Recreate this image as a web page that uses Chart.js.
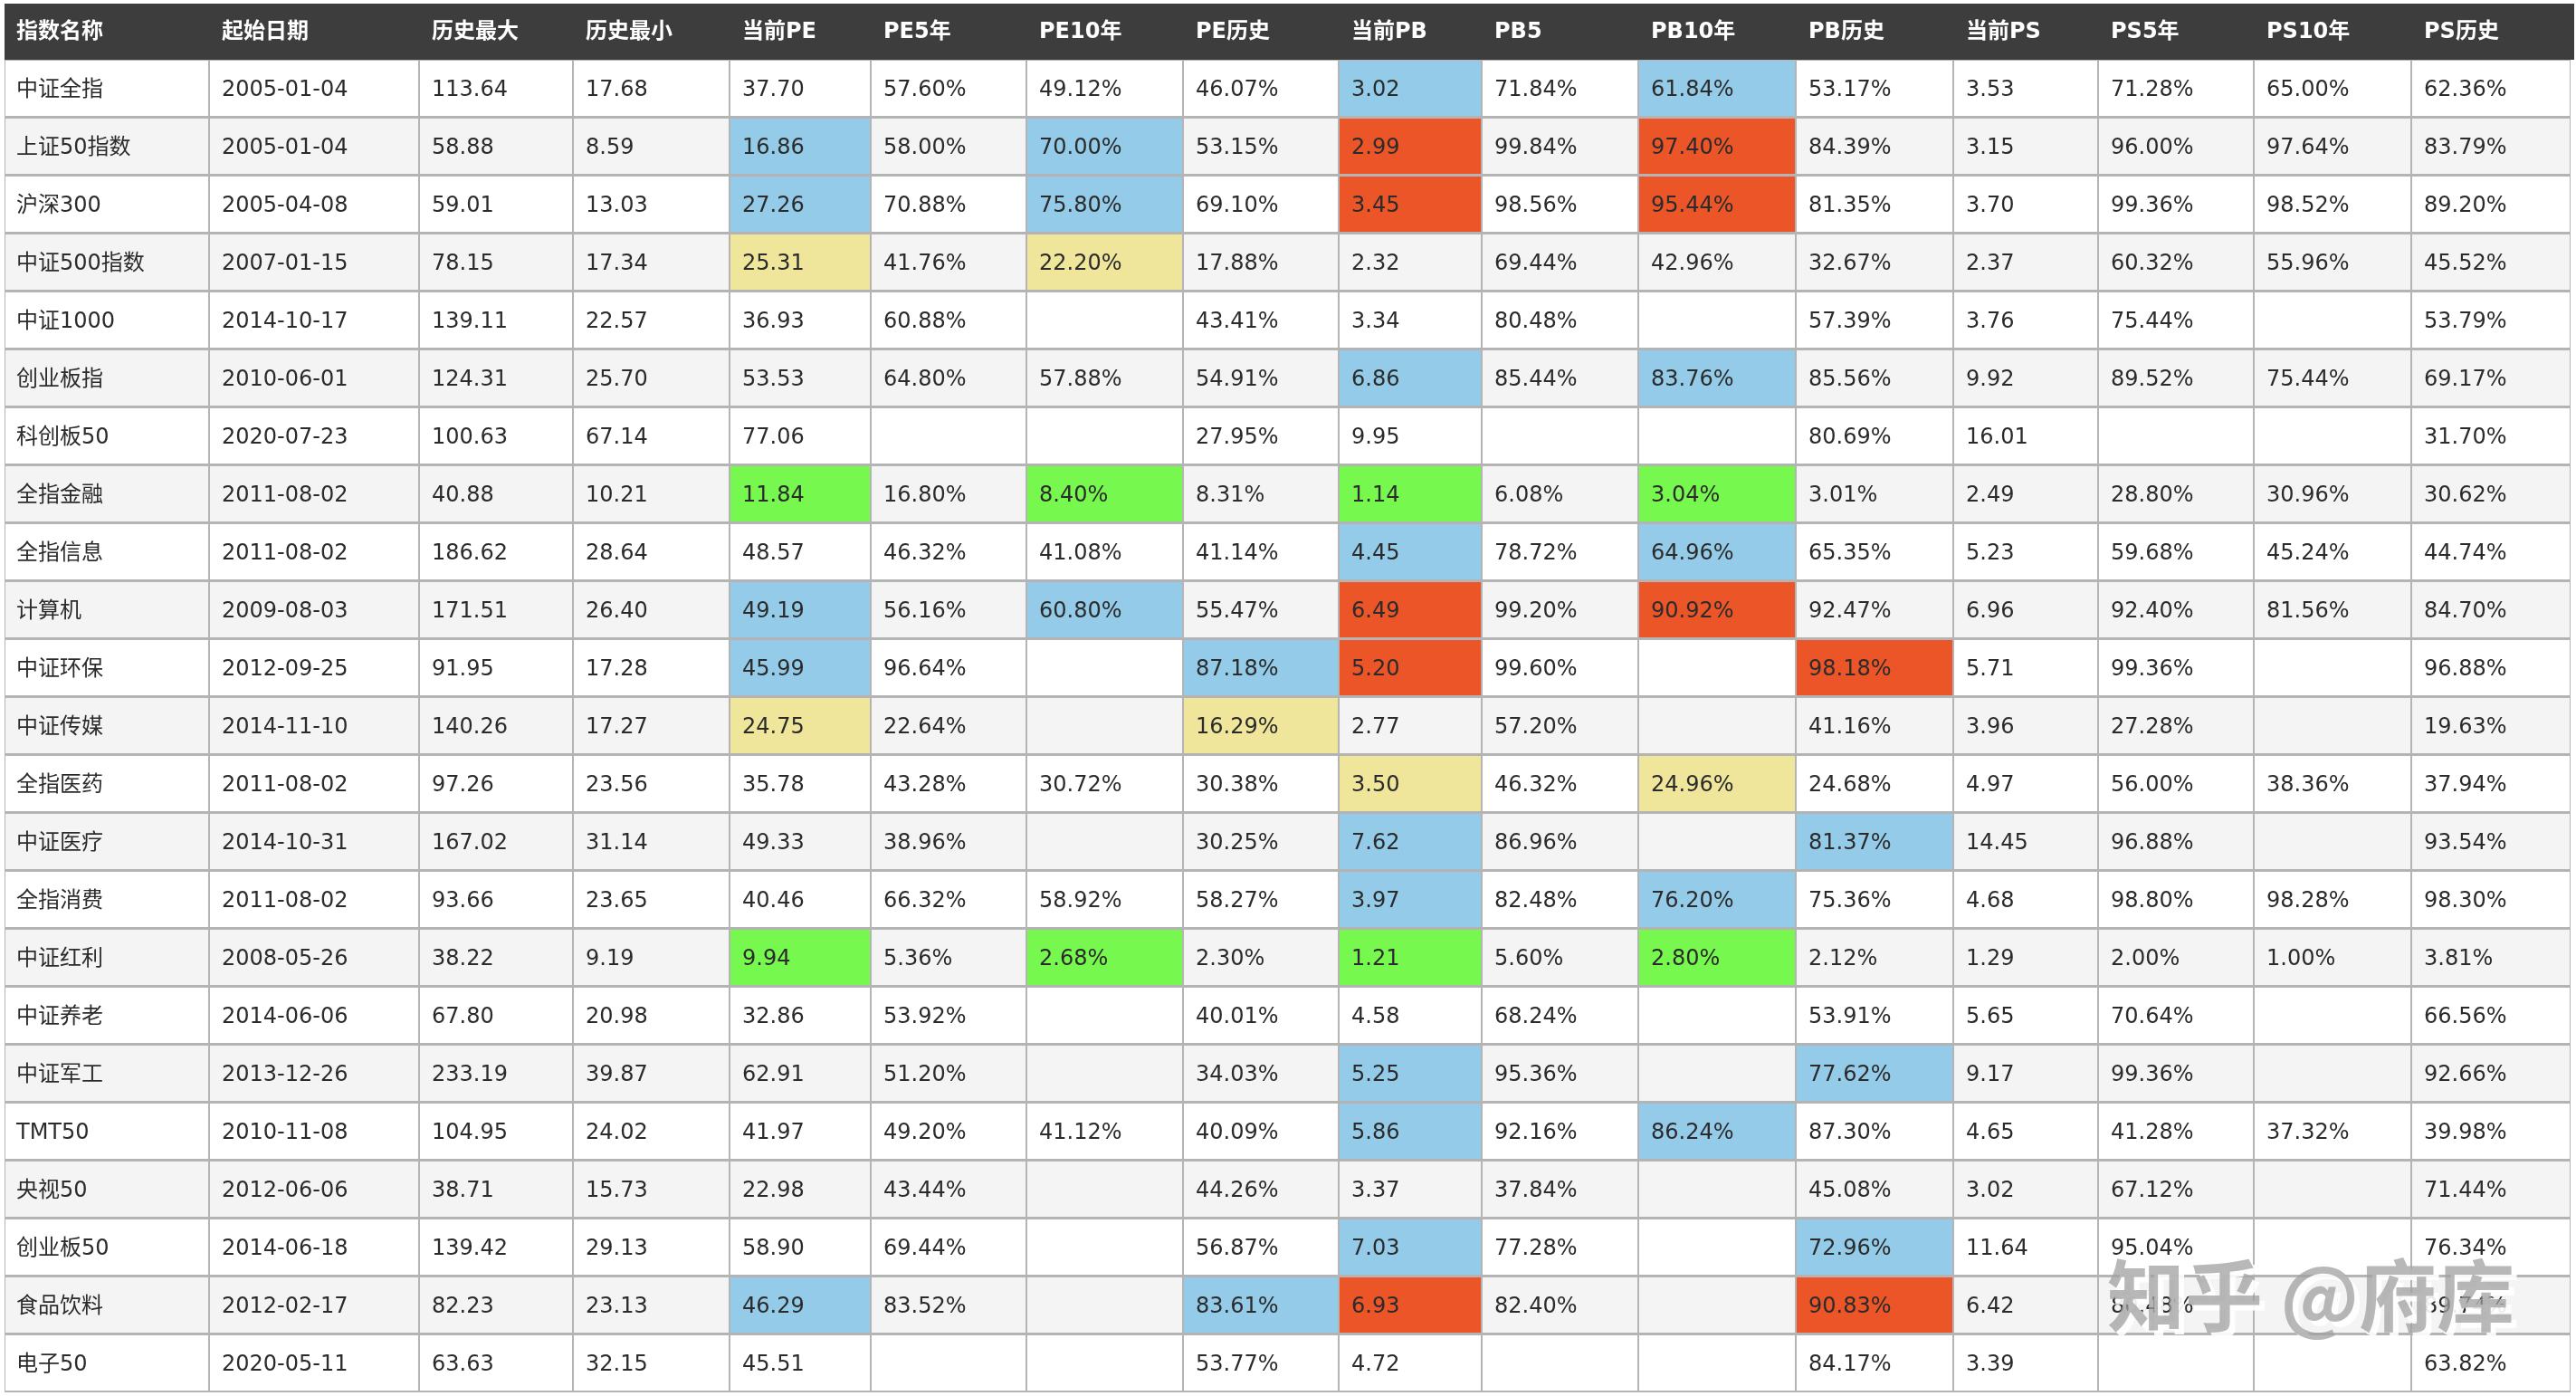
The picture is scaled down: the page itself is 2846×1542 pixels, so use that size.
<!DOCTYPE html>
<html>
<head>
<meta charset="utf-8">
<script src="https://cdn.jsdelivr.net/npm/chart.js@4.4.1/dist/chart.umd.min.js"></script>
<style>
  html, body { margin: 0; padding: 0; background: #fff; }
  canvas { display: block; }
</style>
</head>
<body>
<canvas id="valuation" width="2846" height="1542"></canvas>
<script>
// index names and basic info
const names = ['中证全指', '上证50指数', '沪深300', '中证500指数', '中证1000', '创业板指', '科创板50', '全指金融',
    '全指信息', '计算机', '中证环保', '中证传媒', '全指医药', '中证医疗', '全指消费', '中证红利', '中证养老',
    '中证军工', 'TMT50', '央视50', '创业板50', '食品饮料', '电子50'];
const startDates = ['2005-01-04', '2005-01-04', '2005-04-08', '2007-01-15', '2014-10-17', '2010-06-01', '2020-07-23',
    '2011-08-02', '2011-08-02', '2009-08-03', '2012-09-25', '2014-11-10', '2011-08-02', '2014-10-31', '2011-08-02',
    '2008-05-26', '2014-06-06', '2013-12-26', '2010-11-08', '2012-06-06', '2014-06-18', '2012-02-17', '2020-05-11'];
const histMax = [113.64, 58.88, 59.01, 78.15, 139.11, 124.31, 100.63, 40.88, 186.62, 171.51, 91.95, 140.26, 97.26,
    167.02, 93.66, 38.22, 67.80, 233.19, 104.95, 38.71, 139.42, 82.23, 63.63];
const histMin = [17.68, 8.59, 13.03, 17.34, 22.57, 25.70, 67.14, 10.21, 28.64, 26.40, 17.28, 17.27, 23.56, 31.14,
    23.65, 9.19, 20.98, 39.87, 24.02, 15.73, 29.13, 23.13, 32.15];

// PE
const pe = [37.70, 16.86, 27.26, 25.31, 36.93, 53.53, 77.06, 11.84, 48.57, 49.19, 45.99, 24.75, 35.78, 49.33, 40.46,
    9.94, 32.86, 62.91, 41.97, 22.98, 58.90, 46.29, 45.51];
const pe5 = [57.60, 58.00, 70.88, 41.76, 60.88, 64.80, null, 16.80, 46.32, 56.16, 96.64, 22.64, 43.28, 38.96, 66.32,
    5.36, 53.92, 51.20, 49.20, 43.44, 69.44, 83.52, null];
const pe10 = [49.12, 70.00, 75.80, 22.20, null, 57.88, null, 8.40, 41.08, 60.80, null, null, 30.72, null, 58.92,
    2.68, null, null, 41.12, null, null, null, null];
const peHist = [46.07, 53.15, 69.10, 17.88, 43.41, 54.91, 27.95, 8.31, 41.14, 55.47, 87.18, 16.29, 30.38, 30.25,
    58.27, 2.30, 40.01, 34.03, 40.09, 44.26, 56.87, 83.61, 53.77];

// PB
const pb = [3.02, 2.99, 3.45, 2.32, 3.34, 6.86, 9.95, 1.14, 4.45, 6.49, 5.20, 2.77, 3.50, 7.62, 3.97, 1.21, 4.58,
    5.25, 5.86, 3.37, 7.03, 6.93, 4.72];
const pb5 = [71.84, 99.84, 98.56, 69.44, 80.48, 85.44, null, 6.08, 78.72, 99.20, 99.60, 57.20, 46.32, 86.96, 82.48,
    5.60, 68.24, 95.36, 92.16, 37.84, 77.28, 82.40, null];
const pb10 = [61.84, 97.40, 95.44, 42.96, null, 83.76, null, 3.04, 64.96, 90.92, null, null, 24.96, null, 76.20,
    2.80, null, null, 86.24, null, null, null, null];
const pbHist = [53.17, 84.39, 81.35, 32.67, 57.39, 85.56, 80.69, 3.01, 65.35, 92.47, 98.18, 41.16, 24.68, 81.37,
    75.36, 2.12, 53.91, 77.62, 87.30, 45.08, 72.96, 90.83, 84.17];

// PS
const ps = [3.53, 3.15, 3.70, 2.37, 3.76, 9.92, 16.01, 2.49, 5.23, 6.96, 5.71, 3.96, 4.97, 14.45, 4.68, 1.29, 5.65,
    9.17, 4.65, 3.02, 11.64, 6.42, 3.39];
const ps5 = [71.28, 96.00, 99.36, 60.32, 75.44, 89.52, null, 28.80, 59.68, 92.40, 99.36, 27.28, 56.00, 96.88, 98.80,
    2.00, 70.64, 99.36, 41.28, 67.12, 95.04, 80.48, null];
const ps10 = [65.00, 97.64, 98.52, 55.96, null, 75.44, null, 30.96, 45.24, 81.56, null, null, 38.36, null, 98.28,
    1.00, null, null, 37.32, null, null, null, null];
const psHist = [62.36, 83.79, 89.20, 45.52, 53.79, 69.17, 31.70, 30.62, 44.74, 84.70, 96.88, 19.63, 37.94, 93.54,
    98.30, 3.81, 66.56, 92.66, 39.98, 71.44, 76.34, 89.74, 63.82];

// valuation level marks (current value + 10y percentile, or full history when no 10y)
const peLevel = ['', 'blue', 'blue', 'yellow', '', '', '', 'green', '', 'blue', 'blue', 'yellow', '', '', '',
    'green', '', '', '', '', '', 'blue', ''];
const pbLevel = ['blue', 'red', 'red', '', '', 'blue', '', 'green', 'blue', 'red', 'red', '', 'yellow', 'blue',
    'blue', 'green', '', 'blue', 'blue', '', 'blue', 'red', ''];

const headers = ['指数名称', '起始日期', '历史最大', '历史最小', '当前PE', 'PE5年', 'PE10年', 'PE历史', '当前PB', 'PB5',
    'PB10年', 'PB历史', '当前PS', 'PS5年', 'PS10年', 'PS历史'];

// layout
const colWidths = [226, 232, 170, 173, 156, 172, 173, 172, 158, 173, 174, 174, 160, 172, 174, 176];
const levelColors = { blue: '#93cbe8', red: '#eb5528', yellow: '#efe59b', green: '#77f84f' };
const FONT = '"DejaVu Sans", "Noto Sans CJK SC", sans-serif';

const num = v => v == null ? '' : v.toFixed(2);
const pct = v => v == null ? '' : v.toFixed(2) + '%';

const columns = [
    { values: names, fmt: v => v },
    { values: startDates, fmt: v => v },
    { values: histMax, fmt: num },
    { values: histMin, fmt: num },
    { values: pe, fmt: num, level: peLevel },
    { values: pe5, fmt: pct },
    { values: pe10, fmt: pct, level: peLevel },
    { values: peHist, fmt: pct, level: peLevel, fallback: pe10 },
    { values: pb, fmt: num, level: pbLevel },
    { values: pb5, fmt: pct },
    { values: pb10, fmt: pct, level: pbLevel },
    { values: pbHist, fmt: pct, level: pbLevel, fallback: pb10 },
    { values: ps, fmt: num },
    { values: ps5, fmt: pct },
    { values: ps10, fmt: pct },
    { values: psHist, fmt: pct }
];

const edges = [0];
colWidths.forEach(w => edges.push(edges[edges.length - 1] + w));

function cellColor(col, row) {
    const c = columns[col];
    let lvl = '';
    if (c.level) {
        // the percentile column only gets marked when there is a value in it
        if (c.values[row] != null) lvl = c.level[row];
        // history column is used only when the 10y one is empty
        if (c.fallback && c.fallback[row] != null) lvl = '';
    }
    if (lvl) return levelColors[lvl];
    return row % 2 === 1 ? '#f4f4f4' : '#ffffff';
}

const datasets = columns.map((c, i) => ({
    label: headers[i],
    data: names.map(() => [edges[i], edges[i + 1]]),
    backgroundColor: ctx => cellColor(i, ctx.dataIndex),
    borderColor: '#b4b4b4',
    borderWidth: { left: 1, right: 1, top: 1, bottom: 2 },
    borderSkipped: false,
    inflateAmount: 0,
    barPercentage: 1,
    categoryPercentage: 1,
    grouped: false
}));

const tablePlugin = {
    id: 'tableText',
    afterDatasetsDraw(chart) {
        const ctx = chart.ctx;
        const x = chart.scales.x;
        const top = 4, bottom = chart.chartArea.top;

        // header band
        ctx.save();
        ctx.fillStyle = '#3d3d3d';
        ctx.fillRect(x.getPixelForValue(0), top, x.getPixelForValue(edges[edges.length - 1]) - x.getPixelForValue(0) + 4, bottom - top);
        ctx.fillStyle = '#ffffff';
        ctx.font = 'bold 24px ' + FONT;
        ctx.textBaseline = 'middle';
        headers.forEach((h, i) => {
            const pad = i === 0 ? 13 : 14;
            ctx.fillText(h, x.getPixelForValue(edges[i]) + pad, (top + bottom) / 2 + 1);
        });

        // cell texts
        ctx.fillStyle = '#2b2b2b';
        ctx.font = '24px ' + FONT;
        chart.data.datasets.forEach((ds, i) => {
            const meta = chart.getDatasetMeta(i);
            meta.data.forEach((el, r) => {
                const txt = columns[i].fmt(columns[i].values[r]);
                if (!txt) return;
                const left = Math.min(el.x, el.base);
                const pad = i === 0 ? 13 : 14;
                ctx.fillText(txt, left + pad, el.y + 2);
            });
        });
        ctx.restore();
    },
    afterDraw(chart) {
        // site watermark
        const ctx = chart.ctx;
        ctx.save();
        ctx.font = 'bold 86px "Noto Sans CJK SC", sans-serif';
        ctx.textBaseline = 'alphabetic';
        ctx.fillStyle = 'rgba(255,255,255,0.9)';
        ctx.fillText('知乎 @府库', 2334, 1470);
        ctx.fillStyle = 'rgba(160,160,160,0.75)';
        ctx.fillText('知乎 @府库', 2328, 1464);
        ctx.restore();
    }
};

new Chart(document.getElementById('valuation'), {
    type: 'bar',
    data: { labels: names, datasets: datasets },
    options: {
        indexAxis: 'y',
        responsive: false,
        devicePixelRatio: 1,
        animation: false,
        layout: { padding: { left: 5, right: 6, top: 66, bottom: 4 } },
        scales: {
            x: { type: 'linear', display: false, min: 0, max: edges[edges.length - 1] },
            y: { type: 'category', display: false, offset: true }
        },
        plugins: {
            legend: { display: false },
            tooltip: { enabled: false }
        }
    },
    plugins: [tablePlugin]
});
</script>
</body>
</html>
